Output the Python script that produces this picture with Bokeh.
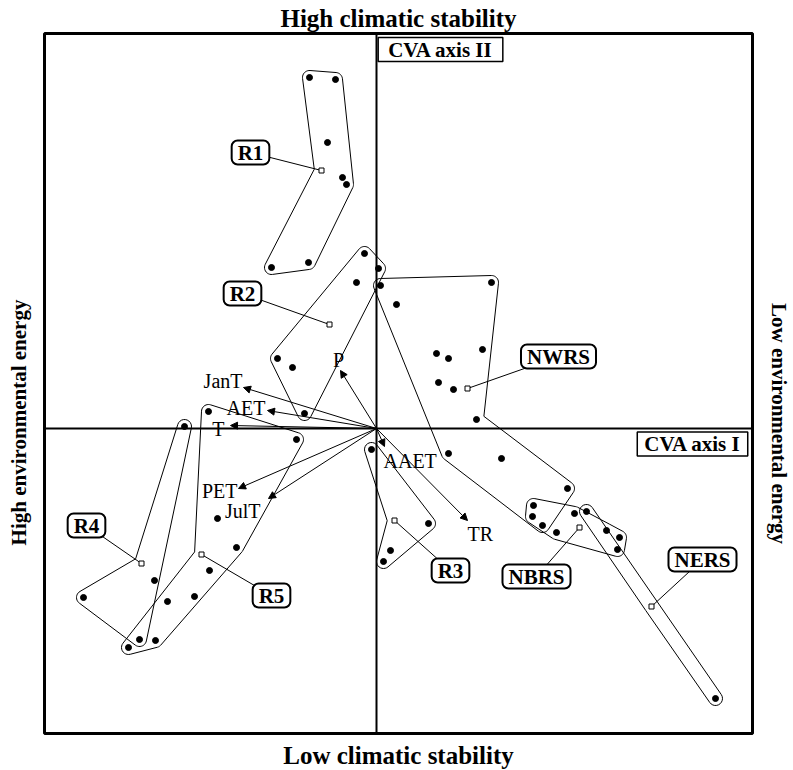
import math
import numpy as np
from bokeh.plotting import figure
from bokeh.models import Range1d, Label, Arrow, NormalHead, ColumnDataSource
from bokeh.core.properties import value
from bokeh.embed import file_html
from bokeh.resources import INLINE

# ---------------- data (CVA scores) ----------------
x_lim = (-3.32, 3.76)
y_lim = (-3.05, 3.95)

# group member scores, centroid, and outline order (-1 = centroid)
r1_x = [-0.67, -0.41, -0.49, -0.34, -0.30, -1.05, -0.68]
r1_y = [3.51, 3.49, 2.86, 2.51, 2.44, 1.61, 1.66]
r1_c = (-0.55, 2.58)
r1_hull = [0, -1, 5, 6, 4, 1]

r2_x = [-0.12, 0.02, -0.20, -0.99, -0.84, -0.72]
r2_y = [1.75, 1.60, 1.46, 0.70, 0.61, 0.15]
r2_c = (-0.47, 1.04)
r2_hull = [0, 1, 5, 3]

r3_x = [-0.05, 0.52, 0.14, 0.07]
r3_y = [-0.21, -0.95, -1.22, -1.33]
r3_c = (0.18, -0.92)
r3_hull = [0, -1, 3, 1]

r4_x = [-1.92, -2.22, -2.93, -2.37]
r4_y = [0.02, -1.52, -1.69, -2.11]
r4_c = (-2.35, -1.35)
r4_hull = [0, -1, 2, 3]

r5_x = [-1.68, -0.80, -1.59, -1.40, -1.67, -2.09, -1.82, -2.21, -2.48]
r5_y = [0.17, -0.11, -0.90, -1.19, -1.42, -1.73, -1.68, -2.12, -2.19]
r5_c = (-1.75, -1.26)
r5_hull = [0, -1, 8, 7, 3, 1]

nwrs_x = [0.04, 0.20, 1.15, 0.60, 0.72, 1.06, 0.62, 0.77, 1.00, 0.72, 1.25, 1.91, 1.66]
nwrs_y = [1.43, 1.24, 1.46, 0.75, 0.70, 0.79, 0.46, 0.39, 0.09, -0.25, -0.30, -0.60, -0.97]
nwrs_c = (0.91, 0.40)
nwrs_hull = [0, 2, 8, 11, 12, 9]

nbrs_x = [1.57, 1.56, 1.80, 1.98, 2.30, 2.43, 2.41]
nbrs_y = [-0.77, -0.88, -1.04, -0.85, -1.02, -1.09, -1.21]
nbrs_c = (2.03, -0.99)
nbrs_hull = [0, 1, 2, 6, 5, 4, 3]

ners_x = [2.10, 3.39]
ners_y = [-0.83, -2.70]
ners_c = (2.75, -1.78)
ners_hull = [0, 1, -1]

# environmental vectors (biplot arrows)
vec_names = ["P", "JanT", "AET", "T", "PET", "JulT", "AAET", "TR"]
vec_x = [-0.36, -1.33, -1.09, -1.46, -1.38, -1.08, 0.08, 0.91]
vec_y = [0.58, 0.41, 0.18, 0.03, -0.60, -0.70, -0.18, -0.92]

# ---------------- layout / style ----------------
group_names = ["R1", "R2", "R3", "R4", "R5", "NWRS", "NBRS", "NERS"]
groups = {
    "R1": (r1_x, r1_y, r1_c, r1_hull),
    "R2": (r2_x, r2_y, r2_c, r2_hull),
    "R3": (r3_x, r3_y, r3_c, r3_hull),
    "R4": (r4_x, r4_y, r4_c, r4_hull),
    "R5": (r5_x, r5_y, r5_c, r5_hull),
    "NWRS": (nwrs_x, nwrs_y, nwrs_c, nwrs_hull),
    "NBRS": (nbrs_x, nbrs_y, nbrs_c, nbrs_hull),
    "NERS": (ners_x, ners_y, ners_c, ners_hull),
}
# label box centres (pixels relative to plot origin, screen y down)
label_pos = {
    "R1": (-126, -276), "R2": (-134, -135), "R3": (74, 142), "R4": (-290, 97),
    "R5": (-105, 167), "NWRS": (182, -72), "NBRS": (160, 148), "NERS": (326, 131),
}
# vector label offsets from arrow tip (px, screen y down) and alignment
vec_lab = {
    "P": (-2, -11, "center"), "JanT": (-1, -7, "right"), "AET": (-2, -3, "right"),
    "T": (-6, 3, "right"), "PET": (-1, 2, "right"), "JulT": (-8, 12, "right"),
    "AAET": (-1, 14, "left"), "TR": (0, 13, "left"),
}
PX = 0.01  # data units per pixel
SERIF = "Liberation Serif"


def rounded_outline(xs, ys, r=0.07, k=12):
    pts = list(zip(xs, ys))
    n = len(pts)
    area = sum(pts[i][0] * pts[(i + 1) % n][1] - pts[(i + 1) % n][0] * pts[i][1] for i in range(n))
    if area < 0:
        pts = pts[::-1]
    ox, oy = [], []
    for i in range(n):
        p0, p1, p2 = pts[i - 1], pts[i], pts[(i + 1) % n]
        e1 = (p1[0] - p0[0], p1[1] - p0[1])
        e2 = (p2[0] - p1[0], p2[1] - p1[1])
        l1, l2 = math.hypot(*e1), math.hypot(*e2)
        n1 = (e1[1] / l1, -e1[0] / l1)
        n2 = (e2[1] / l2, -e2[0] / l2)
        cross = e1[0] * e2[1] - e1[1] * e2[0]
        if cross > 0:
            a1 = math.atan2(n1[1], n1[0])
            a2 = math.atan2(n2[1], n2[0])
            while a2 < a1:
                a2 += 2 * math.pi
            for t in np.linspace(a1, a2, k):
                ox.append(p1[0] + r * math.cos(t))
                oy.append(p1[1] + r * math.sin(t))
        else:
            d = 1 + n1[0] * n2[0] + n1[1] * n2[1]
            ox.append(p1[0] + r * (n1[0] + n2[0]) / d)
            oy.append(p1[1] + r * (n1[1] + n2[1]) / d)
    return ox, oy


p = figure(width=793, height=770, x_range=Range1d(-3.76, 4.17), y_range=Range1d(-3.42, 4.28),
           output_backend="svg", toolbar_location=None, x_axis_location=None,
           y_axis_location=None, min_border=0, outline_line_color=None)
p.grid.visible = False
p.background_fill_color = "white"
p.border_fill_color = "white"

# frame and axes
p.quad(left=[x_lim[0]], right=[x_lim[1]], bottom=[y_lim[0]], top=[y_lim[1]],
       fill_color=None, line_color="black", line_width=3)
p.segment(x0=[x_lim[0], 0], y0=[0, y_lim[0]], x1=[x_lim[1], 0], y1=[0, y_lim[1]],
          line_color="black", line_width=2)

# group outlines
for g in group_names:
    gx, gy, c, hull = groups[g]
    hx = [c[0] if i == -1 else gx[i] for i in hull]
    hy = [c[1] if i == -1 else gy[i] for i in hull]
    ox, oy = rounded_outline(hx, hy)
    p.patch(ox, oy, fill_color=None, line_color="black", line_width=1)

# vectors
vsrc = ColumnDataSource(dict(x0=[0] * len(vec_x), y0=[0] * len(vec_y), x1=vec_x, y1=vec_y))
p.add_layout(Arrow(x_start="x0", y_start="y0", x_end="x1", y_end="y1", source=vsrc,
                   line_color="black", line_width=1,
                   end=NormalHead(size=7, fill_color="black", line_color="black", line_width=1)))
for name, vx, vy in zip(vec_names, vec_x, vec_y):
    dx, dy, al = vec_lab[name]
    p.text(x=[vx + dx * PX], y=[vy - dy * PX], text=[name], text_align=al,
           text_baseline="middle", text_font=value(SERIF), text_font_size="20px",
           text_color="black")

# leader lines, points, centroids, labels
for g in group_names:
    gx, gy, c, hull = groups[g]
    lx, ly = label_pos[g][0] * PX, -label_pos[g][1] * PX
    p.segment(x0=[c[0]], y0=[c[1]], x1=[lx], y1=[ly], line_color="black", line_width=1)
    p.scatter(gx, gy, size=6, marker="circle", fill_color="black", line_color="black")
    p.scatter([c[0]], [c[1]], size=5, marker="square", fill_color="white",
              line_color="black", line_width=1)
    p.add_layout(Label(x=lx, y=ly, text=g, text_align="center", text_baseline="middle",
                       text_font=SERIF, text_font_style="bold", text_font_size="21px",
                       text_color="black", background_fill_color="white",
                       border_line_color="black", border_line_width=2, border_radius=6,
                       padding=(6, 0)))

# axis boxes
p.add_layout(Label(x=0.64, y=3.79, text="CVA axis II", text_align="center",
                   text_baseline="middle", text_font=SERIF, text_font_style="bold",
                   text_font_size="21px", text_color="black", background_fill_color="white",
                   border_line_color="black", border_line_width=1.5, padding=(10, 0)))
p.add_layout(Label(x=3.16, y=-0.155, text="CVA axis I", text_align="center",
                   text_baseline="middle", text_font=SERIF, text_font_style="bold",
                   text_font_size="21px", text_color="black", background_fill_color="white",
                   border_line_color="black", border_line_width=1.5, padding=(7, 0)))

# outer titles
xm = (x_lim[0] + x_lim[1]) / 2
for txt, x, y, ang, fs in [("High climatic stability", xm, 4.10, 0, "25px"),
                           ("Low climatic stability", xm, -3.27, 0, "25px"),
                           ("High environmental energy", -3.58, 0.06, math.pi / 2, "21px"),
                           ("Low environmental energy", 4.02, 0.05, -math.pi / 2, "21px")]:
    p.add_layout(Label(x=x, y=y, text=txt, angle=ang, text_align="center",
                       text_baseline="middle", text_font=SERIF, text_font_style="bold",
                       text_font_size=fs, text_color="black"))

open("out.html", "w").write(file_html(p, INLINE))
